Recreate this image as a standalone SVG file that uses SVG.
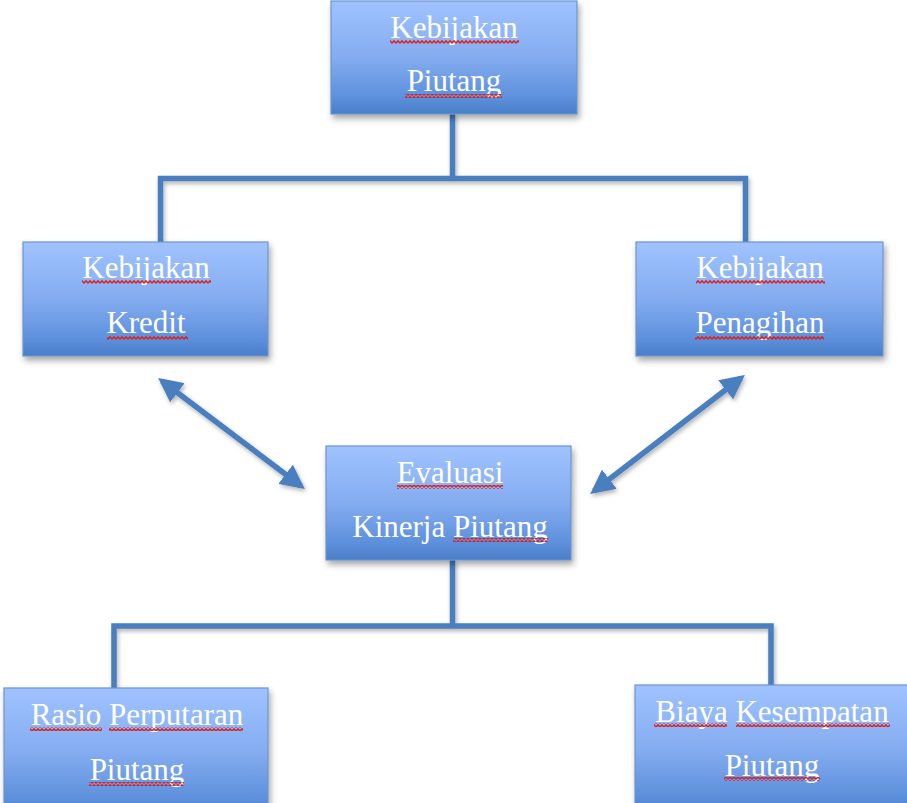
<svg xmlns="http://www.w3.org/2000/svg" width="907" height="803" viewBox="0 0 907 803">
<style>
.box{fill:url(#g);stroke:#6b95cf;stroke-width:1.2;filter:url(#sh)}
.t{font-family:"Liberation Serif","Times New Roman",serif;font-size:31px;fill:#ffffff;text-anchor:middle}
.c{fill:none;stroke:#4a7ebf;stroke-width:5.5;filter:url(#sh2)}
.sq{fill:url(#wave)}
</style>
<defs>
<linearGradient id="g" x1="0" y1="0" x2="0" y2="1">
<stop offset="0" stop-color="#a0c3ff"/>
<stop offset="0.5" stop-color="#84acf0"/>
<stop offset="0.85" stop-color="#5d90dc"/>
<stop offset="1" stop-color="#4a7ec8"/>
</linearGradient>
<filter id="sh" x="-10%" y="-10%" width="125%" height="130%">
<feDropShadow dx="2" dy="4" stdDeviation="3" flood-color="#000" flood-opacity="0.35"/>
</filter>
<filter id="sh2" x="-10%" y="-10%" width="125%" height="130%">
<feDropShadow dx="1.5" dy="2.5" stdDeviation="2" flood-color="#000" flood-opacity="0.3"/>
</filter>
<pattern id="wave" width="4" height="4" patternUnits="userSpaceOnUse">
<path d="M0 3.2 L2 0.8 L4 3.2" fill="none" stroke="#e0201a" stroke-width="1.4"/>
</pattern>
<marker id="ah" viewBox="0 0 10 10" refX="8" refY="5" markerWidth="4.4" markerHeight="4.4" orient="auto-start-reverse" markerUnits="strokeWidth">
<path d="M0 0 L10 5 L0 10 Z" fill="#4a7ebf"/>
</marker>
</defs>
<rect width="907" height="803" fill="#ffffff"/>
<g id="connectors">
<path class="c" d="M452.5 114 V178.5 M160.5 242 V178.5 H745.5 V242"/>
<path class="c" d="M452.5 560 V626 M114 688 V626 H771 V685"/>
<line class="c" x1="162" y1="381" x2="301" y2="486" marker-start="url(#ah)" marker-end="url(#ah)"/>
<line class="c" x1="741" y1="378" x2="594" y2="491" marker-start="url(#ah)" marker-end="url(#ah)"/>
</g>
<g id="n1">
<rect class="box" x="331" y="1" width="246" height="113"/>
<text class="t" x="454" y="38">Kebijakan</text>
<text class="t" x="454" y="91">Piutang</text>
<rect class="sq" x="390" y="40" width="129" height="4"/>
<rect class="sq" x="405" y="94" width="97" height="4"/>
</g>
<g id="n2">
<rect class="box" x="23" y="242" width="245" height="114"/>
<text class="t" x="146" y="278">Kebijakan</text>
<text class="t" x="146" y="333">Kredit</text>
<rect class="sq" x="82" y="280" width="129" height="4"/>
<rect class="sq" x="107" y="336" width="81" height="4"/>
</g>
<g id="n3">
<rect class="box" x="636" y="242" width="247" height="114"/>
<text class="t" x="760" y="278">Kebijakan</text>
<text class="t" x="760" y="333">Penagihan</text>
<rect class="sq" x="696" y="280" width="129" height="4"/>
<rect class="sq" x="695" y="336" width="129" height="4"/>
</g>
<g id="n4">
<rect class="box" x="326" y="446" width="245" height="114"/>
<text class="t" x="450" y="483">Evaluasi</text>
<text class="t" x="450" y="537">Kinerja Piutang</text>
<rect class="sq" x="397" y="485" width="106" height="4"/>
<rect class="sq" x="453" y="538" width="95" height="4"/>
</g>
<g id="n5">
<rect class="box" x="4" y="688" width="264" height="130"/>
<text class="t" x="137" y="725">Rasio Perputaran</text>
<text class="t" x="137" y="780">Piutang</text>
<rect class="sq" x="30" y="727" width="72" height="4"/>
<rect class="sq" x="109" y="727" width="134" height="4"/>
<rect class="sq" x="89" y="782" width="95" height="4"/>
</g>
<g id="n6">
<rect class="box" x="635" y="685" width="275" height="130"/>
<text class="t" x="772" y="722">Biaya Kesempatan</text>
<text class="t" x="772" y="776">Piutang</text>
<rect class="sq" x="654" y="723" width="73" height="4"/>
<rect class="sq" x="736" y="723" width="154" height="4"/>
<rect class="sq" x="724" y="777" width="96" height="4"/>
</g>
</svg>
